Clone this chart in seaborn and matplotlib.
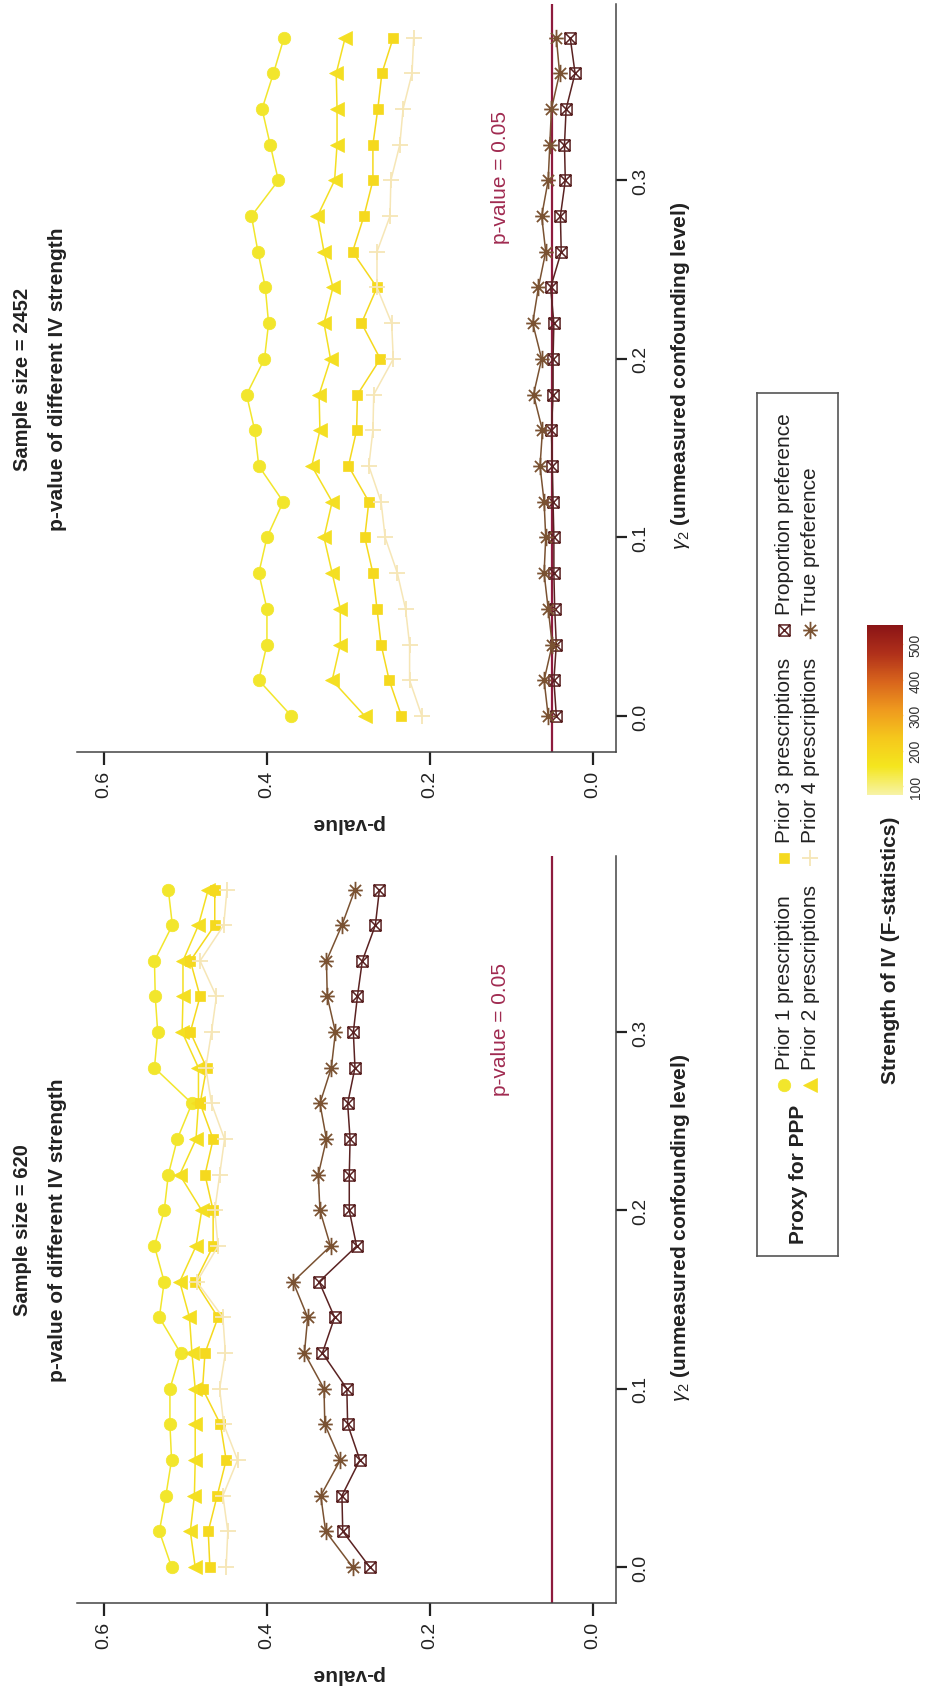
import matplotlib
matplotlib.use("Agg")
import matplotlib.pyplot as plt
import seaborn as sns
import numpy as np
from matplotlib.path import Path
from matplotlib.colors import LinearSegmentedColormap, Normalize
from matplotlib.cm import ScalarMappable

# ---------------- data ----------------
gamma2 = [0.00, 0.02, 0.04, 0.06, 0.08, 0.10, 0.12, 0.14, 0.16, 0.18,
          0.20, 0.22, 0.24, 0.26, 0.28, 0.30, 0.32, 0.34, 0.36, 0.38]

series_names = ["Prior 1 prescription", "Prior 2 prescriptions", "Prior 3 prescriptions",
                "Prior 4 prescriptions", "Proportion preference", "True preference"]

# Sample size = 620
n620_prior1 = [0.517, 0.532, 0.524, 0.517, 0.519, 0.519, 0.506, 0.532, 0.526, 0.538,
               0.526, 0.521, 0.510, 0.492, 0.538, 0.534, 0.537, 0.538, 0.516, 0.521]
n620_prior2 = [0.488, 0.494, 0.489, 0.488, 0.488, 0.488, 0.492, 0.495, 0.507, 0.487,
               0.480, 0.507, 0.487, 0.484, 0.484, 0.504, 0.503, 0.503, 0.484, 0.472]
n620_prior3 = [0.470, 0.472, 0.461, 0.450, 0.457, 0.479, 0.476, 0.460, 0.488, 0.466,
               0.466, 0.476, 0.466, 0.482, 0.474, 0.494, 0.482, 0.494, 0.464, 0.464]
n620_prior4 = [0.450, 0.448, 0.454, 0.436, 0.453, 0.458, 0.451, 0.454, 0.486, 0.460,
               0.464, 0.458, 0.452, 0.468, 0.475, 0.468, 0.462, 0.482, 0.453, 0.449]
n620_prop = [0.274, 0.307, 0.308, 0.286, 0.301, 0.302, 0.332, 0.317, 0.336, 0.290,
             0.299, 0.299, 0.298, 0.301, 0.292, 0.294, 0.289, 0.283, 0.267, 0.262]
n620_true = [0.295, 0.328, 0.334, 0.310, 0.329, 0.330, 0.354, 0.350, 0.368, 0.322,
             0.335, 0.337, 0.327, 0.335, 0.321, 0.316, 0.326, 0.327, 0.308, 0.292]

# Sample size = 2452
n2452_prior1 = [0.370, 0.410, 0.400, 0.400, 0.410, 0.400, 0.380, 0.410, 0.415, 0.425,
                0.403, 0.398, 0.402, 0.411, 0.419, 0.386, 0.396, 0.406, 0.392, 0.379]
n2452_prior2 = [0.280, 0.320, 0.310, 0.310, 0.320, 0.330, 0.320, 0.345, 0.335, 0.336,
                0.322, 0.330, 0.319, 0.330, 0.338, 0.317, 0.314, 0.314, 0.315, 0.304]
n2452_prior3 = [0.235, 0.250, 0.260, 0.265, 0.270, 0.280, 0.275, 0.300, 0.290, 0.289,
                0.261, 0.284, 0.265, 0.295, 0.281, 0.270, 0.270, 0.264, 0.259, 0.245]
n2452_prior4 = [0.210, 0.225, 0.225, 0.230, 0.240, 0.255, 0.260, 0.275, 0.270, 0.269,
                0.245, 0.247, 0.265, 0.265, 0.249, 0.248, 0.237, 0.233, 0.222, 0.220]
n2452_prop = [0.045, 0.048, 0.045, 0.047, 0.048, 0.048, 0.049, 0.050, 0.051, 0.049,
              0.049, 0.048, 0.052, 0.039, 0.040, 0.034, 0.035, 0.033, 0.022, 0.028]
n2452_true = [0.055, 0.060, 0.050, 0.055, 0.060, 0.058, 0.060, 0.065, 0.062, 0.073,
              0.063, 0.074, 0.067, 0.058, 0.063, 0.055, 0.053, 0.051, 0.041, 0.045]

panel_titles = ["Sample size = 620", "Sample size = 2452"]
p_ticks = [0.0, 0.2, 0.4, 0.6]
g_ticks = [0.0, 0.1, 0.2, 0.3]
cbar_ticks = [100, 200, 300, 400, 500]
threshold = 0.05

# ---------------- style ----------------
sns.set_theme(style="white")
plt.rcParams["font.family"] = ["Liberation Sans", "DejaVu Sans"]
plt.rcParams["mathtext.fontset"] = "custom"
plt.rcParams["mathtext.rm"] = "Liberation Sans"
plt.rcParams["mathtext.it"] = "Liberation Sans:italic"
plt.rcParams["mathtext.bf"] = "Liberation Sans:bold"

W, H = 926, 1690
fig = plt.figure(figsize=(W / 100, H / 100), dpi=100)
fig.patch.set_facecolor("white")


def rect(x0, y0, x1, y1):
    return [x0 / W, 1 - y1 / H, (x1 - x0) / W, (y1 - y0) / H]


def fx(x):
    return x / W


def fy(y):
    return 1 - y / H


boxx = Path([(-1, -1), (1, -1), (1, 1), (-1, 1), (-1, -1),
             (-1, -1), (1, 1), (-1, 1), (1, -1)],
            [Path.MOVETO, Path.LINETO, Path.LINETO, Path.LINETO, Path.CLOSEPOLY,
             Path.MOVETO, Path.LINETO, Path.MOVETO, Path.LINETO])
aster = Path([(0, -1.25), (0, 1.25), (-1.05, 0), (1.05, 0),
              (-0.8, -0.8), (0.8, 0.8), (-0.8, 0.8), (0.8, -0.8)],
             [Path.MOVETO, Path.LINETO, Path.MOVETO, Path.LINETO,
              Path.MOVETO, Path.LINETO, Path.MOVETO, Path.LINETO])

styles = [
    dict(color="#f2e62c", marker="o", ms=9.0, mfc="#f2e62c", mec="#f2e62c", mew=0.5),
    dict(color="#f4df22", marker="<", ms=9.5, mfc="#f4df22", mec="#f4df22", mew=0.5),
    dict(color="#f5d91e", marker="s", ms=7.0, mfc="#f5d91e", mec="#f5d91e", mew=0.5),
    dict(color="#f6e6b6", marker="+", ms=12.0, mfc="none", mec="#f6e6b6", mew=1.3),
    dict(color="#5a2222", marker=boxx, ms=8.0, mfc="none", mec="#5a2222", mew=1.1),
    dict(color="#7a5232", marker=aster, ms=12.5, mfc="none", mec="#7a5232", mew=1.3),
]

panels = [
    dict(box=(77, 857, 616, 1604), title=panel_titles[0],
         data=[n620_prior1, n620_prior2, n620_prior3, n620_prior4, n620_prop, n620_true]),
    dict(box=(77, 5, 616, 753), title=panel_titles[1],
         data=[n2452_prior1, n2452_prior2, n2452_prior3, n2452_prior4, n2452_prop, n2452_true]),
]

for pan in panels:
    x0, y0, x1, y1 = pan["box"]
    ax = fig.add_axes(rect(x0, y0, x1, y1))
    for vals, st in zip(pan["data"], styles):
        sns.lineplot(x=vals, y=gamma2, ax=ax, sort=False, estimator=None,
                     color=st["color"], linewidth=1.1, marker=st["marker"],
                     markersize=st["ms"], markerfacecolor=st["mfc"],
                     markeredgecolor=st["mec"], markeredgewidth=st["mew"])
    ax.axvline(threshold, color="#8e1b3e", lw=1.6, zorder=1)
    ax.text(0.113, 0.302, "p-value = 0.05", rotation=90, ha="center", va="center",
            color="#a02a50", fontsize=15)
    ax.set_xlim(0.633, -0.0282)
    ax.set_ylim(-0.0202, 0.3988)
    ax.set_xlabel("")
    ax.set_ylabel("")
    for s in ["top", "left"]:
        ax.spines[s].set_visible(False)
    for s in ["bottom", "right"]:
        ax.spines[s].set_visible(True)
        ax.spines[s].set_color("#444444")
        ax.spines[s].set_linewidth(1.1)
    ax.set_xticks(p_ticks)
    ax.set_xticklabels([f"{v:.1f}" for v in p_ticks])
    ax.set_yticks(g_ticks)
    ax.set_yticklabels([f"{v:.1f}" for v in g_ticks])
    ax.yaxis.tick_right()
    ax.tick_params(axis="x", bottom=True, direction="out", length=9.4, width=1.6,
                   color="#222222", labelsize=14, labelrotation=90, pad=3.6,
                   labelcolor="#222222")
    ax.tick_params(axis="y", right=True, left=False, direction="out", length=8, width=1.6,
                   color="#222222", labelsize=14, labelrotation=90, pad=3.6,
                   labelcolor="#222222")
    for lab in ax.get_yticklabels():
        lab.set_verticalalignment("center")
    ax.set_facecolor("white")
    ax.grid(False)

    cy = (y0 + y1) / 2
    cx = (x0 + x1) / 2
    fig.text(fx(23), fy(cy), pan["title"], rotation=90, ha="center", va="center",
             fontsize=14.5, fontweight="bold", color="#222222")
    fig.text(fx(58), fy(cy), "p-value of different IV strength", rotation=90,
             ha="center", va="center", fontsize=15, fontweight="bold", color="#222222")
    fig.text(fx(cx), fy(y1 + 71), "p-value", rotation=180, ha="center", va="center",
             fontsize=15, fontweight="bold", color="#222222")
    fig.text(fx(681), fy(cy - 3), r"$\gamma_2$ (unmeasured confounding level)",
             rotation=90, ha="center", va="center", fontsize=15, fontweight="bold",
             color="#222222")

# ---------------- legend (drawn in its own axes, rotated) ----------------
lax = fig.add_axes(rect(757, 394, 838, 1257))
lax.set_xlim(757, 838)
lax.set_ylim(1257, 394)
lax.set_xticks([])
lax.set_yticks([])
for s in lax.spines.values():
    s.set_color("#555555")
    s.set_linewidth(1.2)
lax.text(798, 1244, "Proxy for PPP", rotation=90, ha="center", va="bottom",
         fontsize=15, fontweight="bold", color="#222222")
col_y = [1086, 859, 631]
row_x = [784, 810]
order = [(0, 0, 0), (1, 1, 0), (2, 0, 1), (3, 1, 1), (4, 0, 2), (5, 1, 2)]
for idx, r, c in order:
    st = styles[idx]
    lax.plot([row_x[r]], [col_y[c]], linestyle="none", marker=st["marker"],
             markersize=st["ms"], markerfacecolor=st["mfc"],
             markeredgecolor=st["mec"], markeredgewidth=st["mew"])
    lax.text(row_x[r], col_y[c] - 16, series_names[idx], rotation=90, ha="center",
             va="bottom", fontsize=15, color="#222222")

# ---------------- colour bar ----------------
cmap = LinearSegmentedColormap.from_list(
    "ivheat", ["#f7f3a6", "#f4e61e", "#f5c81c", "#ef9a1e", "#d8641c", "#b0301a", "#8a1416"])
cax = fig.add_axes(rect(867, 626, 903, 796))
sm = ScalarMappable(norm=Normalize(75, 555), cmap=cmap)
cb = fig.colorbar(sm, cax=cax, orientation="vertical")
cb.outline.set_visible(False)
cb.set_ticks(cbar_ticks)
cb.set_ticklabels([str(v) for v in cbar_ticks])
cax.tick_params(axis="y", direction="in", length=4, width=1, color="#f6dc8a",
                left=True, right=True, labelright=True, labelleft=False,
                labelsize=10, labelrotation=90, pad=4, labelcolor="#333333")
for lab in cax.get_yticklabels():
    lab.set_verticalalignment("center")
fig.text(fx(890), fy(817), "Strength of IV (F-statistics)", rotation=90, ha="center",
         va="top", fontsize=15, fontweight="bold", color="#222222")

fig.savefig("out.png", dpi=100, facecolor="white")
